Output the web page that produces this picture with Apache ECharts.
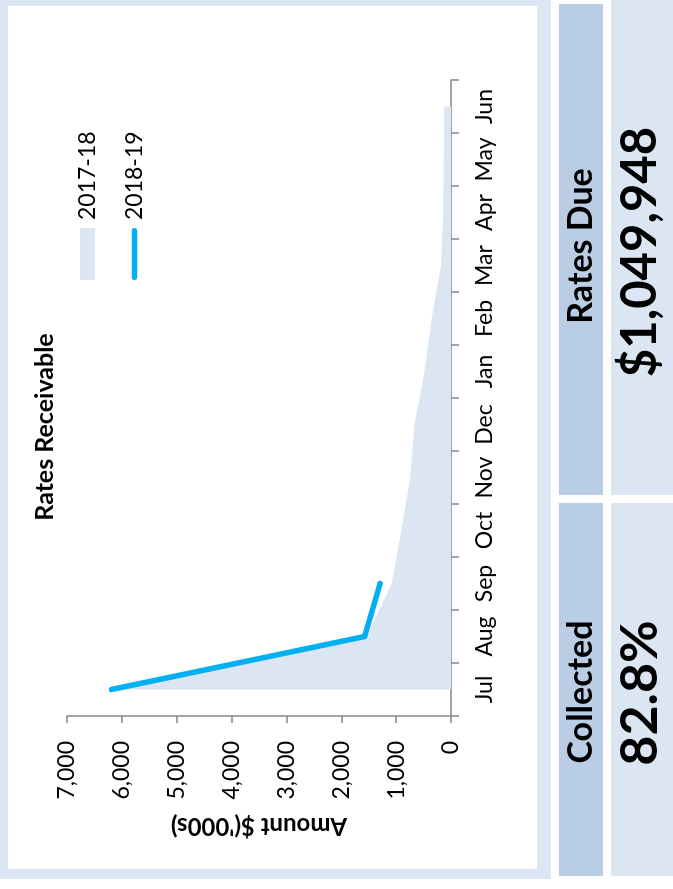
<!DOCTYPE html>
<html>
<head>
<meta charset="utf-8">
<title>Rates Receivable</title>
<script src="https://cdn.jsdelivr.net/npm/echarts@6/dist/echarts.min.js"></script>
<style>
  html, body { margin: 0; padding: 0; background: #ffffff; overflow: hidden; }
  /* the report sheet is laid out landscape and turned a quarter turn onto the portrait page */
  #sheet {
    position: absolute; left: 0; top: 0;
    width: 889px; height: 673px;
    transform-origin: 0 0;
    transform: translate(0, 889px) rotate(-90deg);
  }
</style>
</head>
<body>
<div id="sheet"></div>
<script>
// ---- data ----
const months = ['Jul', 'Aug', 'Sep', 'Oct', 'Nov', 'Dec', 'Jan', 'Feb', 'Mar', 'Apr', 'May', 'Jun'];
const receivable1718 = [6150, 1540, 1078, 905, 745, 667, 485, 351, 182, 140, 130, 122];
const receivable1819 = [6190, 1575, 1290];
const seriesNames = ['2017-18', '2018-19'];
const amountMin = 0, amountMax = 7000, amountStep = 1000;
const chartTitle = 'Rates Receivable';
const amountAxisName = "Amount $('000s)";
const ratesDueLabel = 'Rates Due';
const ratesDueValue = '$1,049,948';
const collectedLabel = 'Collected';
const collectedValue = '82.8%';

// ---- styling ----
const FONT = 'Lato';
const PANEL = '#dce6f2';
const HEADER = '#b9cde5';
const AXIS = '#878787';
const LINE = '#00b0f0';
// thick rounded stroke used as the legend key of the line series
const LINE_KEY = 'path://M2.75,0 H49.25 A2.75,2.75 0 0 1 49.25,5.5 H2.75 A2.75,2.75 0 0 1 2.75,0 Z';

const chart = echarts.init(document.getElementById('sheet'), null, { width: 889, height: 673 });

chart.setOption({
  animation: false,
  textStyle: { fontFamily: FONT },
  graphic: [
    // chart frame
    { type: 'rect', z: -10, shape: { x: 10, y: 0, width: 879, height: 551 }, style: { fill: PANEL } },
    { type: 'rect', z: -9, shape: { x: 20, y: 8, width: 863, height: 529 }, style: { fill: '#ffffff' } },
    // summary boxes
    { type: 'rect', z: -10, shape: { x: 394, y: 559, width: 491, height: 44 }, style: { fill: HEADER } },
    { type: 'rect', z: -10, shape: { x: 13, y: 559, width: 373, height: 44 }, style: { fill: HEADER } },
    { type: 'rect', z: -10, shape: { x: 394, y: 611, width: 495, height: 62 }, style: { fill: PANEL } },
    { type: 'rect', z: -10, shape: { x: 13, y: 611, width: 373, height: 62 }, style: { fill: PANEL } },
    // texts
    { type: 'text', z: 10, x: 462, y: 45,
      style: { text: chartTitle, fill: '#000', font: 'bold 25px ' + FONT, textAlign: 'center', textVerticalAlign: 'middle' } },
    { type: 'text', z: 10, x: 643, y: 581,
      style: { text: ratesDueLabel, fill: '#000', font: 'bold 34px ' + FONT, textAlign: 'center', textVerticalAlign: 'middle' } },
    { type: 'text', z: 10, x: 637, y: 640,
      style: { text: ratesDueValue, fill: '#000', font: 'bold 49px ' + FONT, textAlign: 'center', textVerticalAlign: 'middle' } },
    { type: 'text', z: 10, x: 197, y: 581,
      style: { text: collectedLabel, fill: '#000', font: 'bold 34px ' + FONT, textAlign: 'center', textVerticalAlign: 'middle' } },
    { type: 'text', z: 10, x: 196, y: 640,
      style: { text: collectedValue, fill: '#000', font: 'bold 52px ' + FONT, textAlign: 'center', textVerticalAlign: 'middle' } }
  ],
  legend: {
    orient: 'vertical',
    left: 609,
    top: 76,
    padding: 0,
    itemWidth: 52,
    itemHeight: 15,
    itemGap: 24,
    textStyle: { fontSize: 23, color: '#000', lineHeight: 23, padding: [0, 0, 0, 3] },
    data: [
      { name: seriesNames[0], icon: 'rect' },
      { name: seriesNames[1], icon: LINE_KEY, itemStyle: { color: LINE } }
    ]
  },
  grid: { left: 173, right: 80, top: 67, bottom: 222, containLabel: false },
  xAxis: {
    type: 'category',
    data: months,
    boundaryGap: true,
    axisLine: { lineStyle: { color: AXIS, width: 1.5 } },
    axisTick: { show: true, length: 8, lineStyle: { color: AXIS, width: 1.5 } },
    axisLabel: { color: '#000', fontSize: 23, margin: 22, interval: 0 },
    splitLine: { show: false }
  },
  yAxis: {
    type: 'value',
    min: amountMin,
    max: amountMax,
    interval: amountStep,
    name: amountAxisName,
    nameLocation: 'middle',
    nameRotate: 90,
    nameGap: 98,
    nameTextStyle: { color: '#000', fontSize: 24, fontWeight: 'bold' },
    axisLine: { show: true, lineStyle: { color: AXIS, width: 1.5 } },
    axisTick: { show: true, length: 7, lineStyle: { color: AXIS, width: 1.5 } },
    axisLabel: { color: '#000', fontSize: 23, margin: 25 },
    splitLine: { show: false }
  },
  series: [
    {
      name: seriesNames[0],
      type: 'line',
      data: receivable1718,
      symbol: 'none',
      z: 1,
      itemStyle: { color: PANEL },
      lineStyle: { width: 0, color: PANEL },
      areaStyle: { color: PANEL, opacity: 1 }
    },
    {
      name: seriesNames[1],
      type: 'line',
      data: receivable1819,
      symbol: 'none',
      z: 3,
      itemStyle: { color: LINE },
      lineStyle: { color: LINE, width: 5.5, cap: 'round', join: 'round' }
    }
  ]
});
</script>
</body>
</html>
